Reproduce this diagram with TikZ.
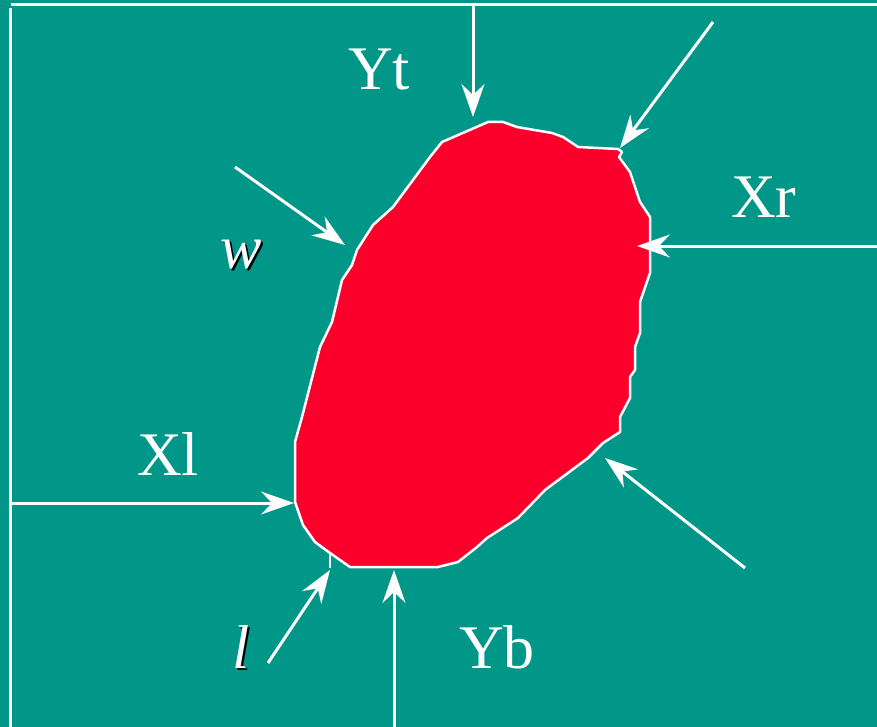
\documentclass[tikz,border=0pt]{standalone}
\usepackage{fontspec}
\setmainfont{Liberation Serif}
\usetikzlibrary{arrows.meta}
\definecolor{plate}{RGB}{0,150,136}
\definecolor{blobred}{RGB}{252,0,44}
\newcommand{\shadowed}[1]{\rlap{\hspace{2.5pt}\raisebox{-2.5pt}{\color{black}#1}}#1}
\begin{document}
\begin{tikzpicture}[x=1pt,y=-1pt,
  probe/.style={white, line width=3pt, -{Stealth[length=33pt,width=23pt,inset=11pt]}},
  tag/.style={text=white, font=\fontsize{62}{70}\selectfont, inner sep=0pt, anchor=base west}]
  \fill[plate] (0,0) rectangle (877,727);
  \useasboundingbox (0,0) rectangle (877,727);
  \draw[white, line width=3pt] (11,5) -- (877,5) (10,8) -- (10,727);
  \draw[white, line width=2.5pt, fill=blobred, line join=round]
    (488,122) -- (503,122) -- (517,127) -- (552,133) -- (563,137) -- (578,147) -- (618,149)
    -- (622,152) -- (619,157) -- (630,172) -- (640,202) -- (650,217) -- (650,273) -- (640,302)
    -- (640,333) -- (635,347) -- (635,370) -- (630,377) -- (630,398) -- (620,417) -- (620,432)
    -- (603,443) -- (588,458) -- (545,490) -- (518,518) -- (487,538) -- (477,547) -- (458,562)
    -- (438,567) -- (350,567) -- (330,553) -- (315,542) -- (303,525) -- (295,502) -- (295,442)
    -- (302,417) -- (320,347) -- (332,322) -- (342,280) -- (352,265) -- (357,250) -- (373,225)
    -- (393,207) -- (430,157) -- (442,142) -- cycle;
  \draw[white, line width=2.5pt] (330,553) -- (330,568);

  \coordinate (yt0) at (473,5);    \coordinate (yt1) at (473,117);
  \coordinate (tr0) at (713,22);   \coordinate (tr1) at (620,148);
  \coordinate (xr0) at (877,246);  \coordinate (xr1) at (637,246);
  \coordinate (w0) at (235,167);   \coordinate (w1) at (345,245);
  \coordinate (xl0) at (10,503);   \coordinate (xl1) at (294,503);
  \coordinate (yb0) at (394,727);  \coordinate (yb1) at (394,570);
  \coordinate (l0) at (268,663);   \coordinate (l1) at (330,570);
  \coordinate (br0) at (745,568);  \coordinate (br1) at (605,458);
  \foreach \a in {yt,tr,xr,w,xl,yb,l,br}
    \draw[probe] (\a0) -- (\a1);

  \node[tag] (ytlab) at (348,90) {Yt};
  \node[tag] (xrlab) at (731,218) {Xr};
  \node[tag] (xllab) at (137,475) {Xl};
  \node[tag] (yblab) at (459,668) {Yb};
  \node[tag] (wlab) at (220,268) {\itshape\shadowed{w}};
  \node[tag] (llab) at (232,668) {\itshape\shadowed{l}};
\end{tikzpicture}
\end{document}
